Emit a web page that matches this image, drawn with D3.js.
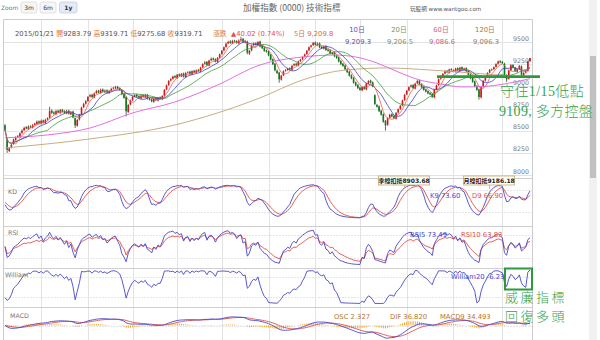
<!DOCTYPE html>
<html>
<head>
<meta charset="utf-8">
<script src="https://cdn.jsdelivr.net/npm/d3@7/dist/d3.min.js"></script>
<style>
html,body{margin:0;padding:0;background:#fff;overflow:hidden;}
svg{display:block;}
text{font-family:"DejaVu Sans","Noto Sans CJK TC",sans-serif;}
</style>
</head>
<body>
<svg id="chart" width="600" height="340"></svg>
<script>
// ---- daily candles, oldest first ----
const opens = [
8560,8400,8270,8310,8350,8395,8430,8435,8475,8505,
8540,8520,8550,8535,8565,8575,8605,8580,8615,8585,
8625,8645,8725,8705,8685,8725,8700,8735,8720,8695,
8725,8685,8715,8640,8555,8625,8685,8765,8805,8835,
8885,8905,8875,8925,8950,8925,8965,8935,8955,8925,
8950,8975,8980,8995,8980,8955,8915,8880,8710,8795,
8845,8885,8905,8890,8865,8900,8875,8905,8865,8855,
8825,8865,8840,8875,8855,8895,8965,9015,9065,9085,
9115,9095,9135,9115,9145,9105,9155,9165,9135,9175,
9155,9185,9170,9215,9255,9275,9235,9295,9315,9305,
9275,9325,9365,9405,9445,9485,9505,9485,9515,9510,
9485,9520,9535,9495,9505,9370,9405,9465,9485,9465,
9505,9455,9435,9405,9395,9355,9305,9255,9175,9155,
9075,9125,9175,9185,9205,9185,9235,9255,9235,9285,
9305,9335,9365,9405,9445,9465,9495,9465,9485,9445,
9425,9455,9415,9405,9365,9385,9345,9325,9285,9255,
9235,9195,9165,9125,9095,9045,9015,8985,8955,8995,
8965,9035,9065,9045,8900,8790,8775,8725,8685,8610,
8565,8645,8685,8665,8635,8705,8745,8785,8845,8910,
8955,8995,9015,8975,9035,9065,9025,8995,8965,8945,
8925,8915,8875,8965,9015,9085,9115,9145,9175,9155,
9195,9180,9165,9205,9175,9215,9185,9205,9175,9135,
9095,9055,9005,8965,8875,8995,9065,9105,9155,9185,
9195,9220,9255,9285,9275,9255,9125,9085,9180,9240,
9210,9165,9195,9225,9125,9155,9175,9283.79
];
const highs = [
8575,8410,8315,8350,8410,8435,8450,8480,8515,8545,
8550,8560,8560,8575,8590,8615,8615,8625,8625,8635,
8650,8770,8740,8720,8735,8735,8745,8745,8730,8735,
8735,8720,8725,8650,8630,8690,8770,8815,8845,8890,
8915,8915,8930,8960,8960,8975,8975,8965,8965,8960,
8985,8995,9005,9005,8990,8965,8925,8890,8800,8850,
8895,8910,8915,8900,8910,8910,8915,8915,8875,8865,
8870,8875,8880,8885,8900,8970,9020,9070,9095,9120,
9125,9140,9145,9150,9155,9160,9170,9175,9180,9185,
9190,9195,9220,9260,9285,9285,9300,9325,9325,9315,
9330,9370,9410,9450,9495,9515,9520,9525,9525,9520,
9530,9560,9545,9525,9515,9410,9470,9495,9495,9510,
9515,9465,9445,9415,9405,9365,9315,9265,9190,9165,
9130,9180,9195,9210,9215,9240,9260,9265,9290,9310,
9340,9370,9410,9450,9470,9500,9505,9495,9495,9455,
9460,9465,9425,9415,9390,9395,9355,9335,9295,9265,
9245,9205,9175,9135,9105,9055,9025,8995,9000,9005,
9040,9070,9075,9055,8910,8800,8785,8735,8695,8620,
8650,8690,8695,8675,8710,8750,8790,8850,8915,8960,
9000,9020,9025,9040,9070,9075,9035,9005,8975,8955,
8935,8925,8970,9020,9090,9120,9150,9180,9185,9200,
9205,9190,9210,9215,9220,9225,9210,9215,9185,9145,
9105,9065,9015,8975,9000,9070,9110,9160,9195,9200,
9225,9260,9290,9295,9285,9265,9135,9185,9250,9250,
9220,9200,9240,9235,9160,9180,9290,9319.71
];
const lows = [
8495,8250,8260,8300,8340,8385,8420,8425,8465,8495,
8515,8510,8530,8525,8555,8565,8575,8570,8580,8575,
8615,8635,8690,8680,8675,8695,8690,8705,8690,8685,
8680,8675,8640,8530,8545,8615,8675,8755,8795,8825,
8875,8870,8865,8915,8920,8915,8930,8925,8920,8915,
8940,8965,8970,8965,8950,8900,8860,8660,8700,8785,
8835,8875,8875,8860,8855,8870,8865,8850,8840,8820,
8815,8835,8830,8850,8845,8885,8955,9005,9055,9075,
9090,9085,9110,9105,9100,9095,9145,9130,9125,9150,
9145,9165,9160,9205,9245,9230,9225,9285,9290,9270,
9265,9315,9355,9395,9435,9475,9480,9475,9495,9480,
9475,9510,9490,9485,9360,9355,9395,9455,9460,9455,
9440,9420,9390,9380,9340,9290,9240,9170,9140,9040,
9065,9115,9165,9175,9180,9175,9225,9230,9225,9275,
9295,9325,9355,9395,9435,9455,9460,9455,9430,9420,
9415,9400,9390,9360,9355,9330,9310,9270,9240,9220,
9180,9150,9110,9080,9030,9000,8970,8950,8945,8960,
8955,9025,9030,8990,8790,8760,8710,8670,8590,8501,
8555,8635,8650,8630,8625,8695,8735,8775,8835,8900,
8945,8985,8970,8965,9025,9010,8980,8950,8930,8910,
8900,8870,8865,8955,9005,9075,9105,9135,9150,9145,
9175,9160,9155,9170,9165,9180,9175,9160,9120,9080,
9040,8990,8950,8850,8865,8985,9055,9095,9145,9175,
9185,9210,9245,9260,9250,9120,9050,9075,9170,9205,
9160,9155,9185,9109,9115,9145,9165,9275.68
];
const closes = [
8510,8285,8300,8340,8400,8420,8440,8470,8500,8530,
8525,8545,8540,8560,8580,8600,8585,8610,8590,8620,
8640,8720,8700,8690,8720,8705,8730,8715,8700,8720,
8690,8710,8650,8560,8620,8680,8760,8800,8830,8880,
8900,8880,8920,8945,8930,8960,8940,8950,8930,8945,
8970,8985,8990,8975,8960,8910,8870,8720,8790,8840,
8880,8900,8885,8870,8895,8880,8900,8860,8850,8830,
8860,8845,8870,8860,8890,8960,9010,9060,9080,9110,
9100,9130,9120,9140,9110,9150,9160,9140,9170,9160,
9180,9175,9210,9250,9270,9240,9290,9310,9300,9280,
9320,9360,9400,9440,9480,9500,9490,9510,9505,9490,
9515,9530,9500,9510,9380,9400,9460,9480,9470,9500,
9450,9430,9400,9390,9350,9300,9250,9180,9150,9080,
9120,9170,9180,9200,9190,9230,9250,9240,9280,9300,
9330,9360,9400,9440,9460,9490,9470,9480,9440,9430,
9450,9410,9400,9370,9380,9340,9320,9280,9250,9230,
9190,9160,9120,9090,9040,9010,8980,8960,8990,8970,
9030,9060,9040,9000,8800,8770,8720,8680,8600,8560,
8640,8680,8660,8640,8700,8740,8780,8840,8903.68,8950,
8990,9010,8980,9030,9060,9020,8990,8960,8940,8920,
8910,8880,8960,9010,9080,9110,9140,9170,9160,9190,
9185,9170,9200,9180,9210,9190,9200,9170,9130,9090,
9050,9000,8960,8880,8990,9060,9100,9150,9186.18,9190,
9215,9250,9280,9270,9260,9130,9080,9175.82,9238,9215,
9170,9190,9231,9130,9150,9169.6,9279.69,9319.71
];

// 60-day and 120-day averages sampled along the window: candle index, value
const ma60Index  = [0,20,40,60,80,100,120,140,155,165,175,185,195,205,215,225,235,247];
const ma60Value  = [8420,8452,8530,8700,8824,9015,9241,9331,9353,9331,9263,9162,9072,9027,8993,8998,9027,9086.6];
const ma120Index = [0,40,80,120,140,160,180,200,220,247];
const ma120Value = [8305,8407,8565,8870,9072,9184,9207,9184,9150,9096.3];

// candle indexes where a new month begins
const monthStarts = [17,39,60,81,102,124,146,167,189,211,234];
const priceTicks = [8000,8250,8500,8750,9000,9250,9500];

// quote line
const quoteDate = "2015/01/21";
const quoteFields = ["開","高","低","收"];
const quoteValues = ["9283.79","9319.71","9275.68","9319.71"];
const quoteChange = "▲40.02 (0.74%)";

// moving-average legend
const maNames = ["5日","10日","20日","60日","120日"];
const maLast  = ["9,209.8","9,209.3","9,206.5","9,086.6","9,096.3"];

// indicator legends
const kdLegend   = ["K9 73.60","D9 66.90"];
const rsiLegend  = ["RSI5 73.49","RSI10 63.83"];
const willLegend = ["William20 -6.23"];
const macdLegend = ["OSC 2.327","DIF 36.820","MACD9 34.493"];

// deduction markers (candle index, text)
const deductIndex = [188, 228];
const deductText  = ["季線扣抵8903.68","月線扣抵9186.18"];

const zoomButtons = ["3m","6m","1y"];

// ---------------------------------------------------------------
const N = closes.length;
const svg = d3.select("#chart");
const FL = 3, FR = 532;
const x = d3.scaleLinear().domain([0, N - 1]).range([5, 530]);
const yP = d3.scaleLinear().domain([8000, 9500]).range([175, 42]);

const panels = {
  main: [19, 178], kd: [178, 226], rsi: [226, 268], will: [268, 307], macd: [307, 345]
};
const yK = d3.scaleLinear().domain([0, 100]).range([219, 183]);
const yR = d3.scaleLinear().domain([0, 100]).range([265, 228]);
const yW = d3.scaleLinear().domain([-100, 0]).range([304, 270]);
const yM = d3.scaleLinear().domain([-200, 200]).range([341.1, 309.9]);

// ---- indicators derived from the candles ----
function sma(n) {
  return closes.map((c, i) => d3.mean(closes.slice(Math.max(0, i - n + 1), i + 1)));
}
const ma5 = sma(5), ma10 = sma(10), ma20 = sma(20);

const kLine = [], dLine = [];
{
  let k = 50, d = 50;
  for (let i = 0; i < N; i++) {
    const s = Math.max(0, i - 8);
    const hi = d3.max(highs.slice(s, i + 1)), lo = d3.min(lows.slice(s, i + 1));
    const rsv = hi === lo ? 50 : (closes[i] - lo) / (hi - lo) * 100;
    k = k * 2 / 3 + rsv / 3;
    d = d * 2 / 3 + k / 3;
    kLine.push(k); dLine.push(d);
  }
}
function rsi(n) {
  const out = [50];
  let up = 20, dn = 20;
  for (let i = 1; i < N; i++) {
    const ch = closes[i] - closes[i - 1];
    up += (Math.max(ch, 0) - up) / n;
    dn += (Math.max(-ch, 0) - dn) / n;
    out.push(up + dn === 0 ? 50 : up / (up + dn) * 100);
  }
  return out;
}
const rsi5 = rsi(5), rsi10 = rsi(10);
const will = closes.map((c, i) => {
  const s = Math.max(0, i - 19);
  const hi = d3.max(highs.slice(s, i + 1)), lo = d3.min(lows.slice(s, i + 1));
  return hi === lo ? -50 : (hi - c) / (hi - lo) * -100;
});
const dif = [], sig = [], osc = [];
{
  let e12 = closes[0], e26 = closes[0], s9 = 0;
  for (let i = 0; i < N; i++) {
    e12 += (closes[i] - e12) * 2 / 13;
    e26 += (closes[i] - e26) * 2 / 27;
    const df = e12 - e26;
    s9 += (df - s9) * 2 / 10;
    dif.push(df); sig.push(s9); osc.push(df - s9);
  }
}

// ---- frame & grid ----
const defs = svg.append("defs");
Object.entries(panels).forEach(([k, r]) => {
  defs.append("clipPath").attr("id", "clip-" + k)
    .append("rect").attr("x", FL).attr("y", r[0]).attr("width", FR - FL).attr("height", r[1] - r[0]);
});

// ---- scrollbar (page chrome, behind the overlays) ----
svg.append("rect").attr("x", 589).attr("y", 0).attr("width", 8).attr("height", 340).attr("fill", "#f1f1f1");
svg.append("rect").attr("x", 590).attr("y", 56).attr("width", 6).attr("height", 122).attr("fill", "#c1c1c1");

const grid = svg.append("g");
grid.selectAll("line.v").data(monthStarts).join("line")
  .attr("x1", d => Math.round(x(d)) + 0.5).attr("x2", d => Math.round(x(d)) + 0.5)
  .attr("y1", 19).attr("y2", 340).attr("stroke", "#e3e3e3");
grid.selectAll("line.h").data(priceTicks).join("line")
  .attr("x1", FL).attr("x2", FR)
  .attr("y1", d => Math.round(yP(d)) + 0.5).attr("y2", d => Math.round(yP(d)) + 0.5)
  .attr("stroke", "#e3e3e3");

// guide lines inside the indicator panels
const guides = [
  ...[80, 20].map(v => yK(v)),
  ...[80, 20].map(v => yR(v)),
  ...[-20, -80].map(v => yW(v)),
  yM(0)
];
grid.selectAll("line.g").data(guides).join("line")
  .attr("x1", FL).attr("x2", FR)
  .attr("y1", d => Math.round(d) + 0.5).attr("y2", d => Math.round(d) + 0.5)
  .attr("stroke", "#e6e6e6").attr("stroke-dasharray", "2,1");

// panel separators and outer frame
grid.selectAll("line.sep").data([178, 226, 268, 307]).join("line")
  .attr("x1", FL).attr("x2", FR).attr("y1", d => d + 0.5).attr("y2", d => d + 0.5)
  .attr("stroke", "#cfcfcf").attr("stroke-width", 1.2);
grid.append("path")
  .attr("d", `M${FL + 0.5},340 V19.5 H${FR + 0.5} V340`)
  .attr("fill", "none").attr("stroke", "#cccccc");

// price axis labels
svg.append("g").selectAll("text").data(priceTicks).join("text")
  .attr("x", 529).attr("y", d => yP(d) - 1.5)
  .attr("text-anchor", "end").attr("font-size", 6.3).attr("fill", "#777")
  .text(d => d);

// ---- title row ----
svg.append("text").attr("x", 1).attr("y", 9.6).attr("font-size", 6).attr("fill", "#777").text("Zoom");
const btnX = [21, 40, 59.5], btnW = [16, 16, 17.5];
const btn = svg.append("g").selectAll("g").data(zoomButtons).join("g");
btn.append("rect")
  .attr("x", (d, i) => btnX[i]).attr("y", 2).attr("width", (d, i) => btnW[i]).attr("height", 11).attr("rx", 2)
  .attr("fill", (d, i) => i === 2 ? "#e4eaf6" : "#f6f6f6")
  .attr("stroke", (d, i) => i === 2 ? "#c4cde0" : "#dadada").attr("stroke-width", 0.8);
btn.append("text")
  .attr("x", (d, i) => btnX[i] + btnW[i] / 2).attr("y", 10).attr("text-anchor", "middle")
  .attr("font-size", 6).attr("fill", "#333").attr("font-weight", (d, i) => i === 2 ? "bold" : "normal")
  .text(d => d);

svg.append("text").attr("x", 243).attr("y", 11).attr("font-size", 8.6).attr("fill", "#666")
  .style("font-family", '"Noto Sans CJK TC",sans-serif').text("加權指數 (0000) 技術指標");
svg.append("text").attr("x", 410).attr("y", 11).attr("font-size", 5.6).attr("fill", "#555")
  .text("玩股網 www.wantgoo.com");

// ---- quote line ----
const q = svg.append("text").attr("x", 15).attr("y", 35.5).attr("font-size", 6.8).attr("fill", "#555");
q.append("tspan").text(quoteDate + " ");
quoteFields.forEach((f, i) => {
  q.append("tspan").attr("fill", "#e07b39").text(f);
  q.append("tspan").text(quoteValues[i] + " ");
});
svg.append("text").attr("x", 213).attr("y", 35.5).attr("font-size", 6.8).attr("fill", "#e07b39").text("漲跌");
svg.append("text").attr("x", 231).attr("y", 35.5).attr("font-size", 6.8).attr("fill", "#e05050").text(quoteChange);
svg.append("text").attr("x", 294).attr("y", 35.5).attr("font-size", 6.8).attr("fill", "#e0684a")
  .text(maNames[0] + " " + maLast[0]);

const maColors = ["#e0684a", "#5656b8", "#6a9a6a", "#d06080", "#a87858"];
const colX = [null, 357, 399, 441, 485];
const maLeg = svg.append("g");
[1, 2, 3, 4].forEach(i => {
  maLeg.append("text").attr("x", colX[i]).attr("y", 32).attr("text-anchor", "middle")
    .attr("font-size", 6.8).attr("fill", maColors[i]).text(maNames[i]);
  maLeg.append("text").attr("x", colX[i] + 1).attr("y", 43.5).attr("text-anchor", "middle")
    .attr("font-size", 6.8).attr("fill", maColors[i]).text(maLast[i]);
});

// ---- candles ----
const candles = svg.append("g").attr("clip-path", "url(#clip-main)");
const idx = d3.range(N);
const upC = "#d41616", dnC = "#0c7a1c";
candles.selectAll("line").data(idx).join("line")
  .attr("x1", i => x(i)).attr("x2", i => x(i))
  .attr("y1", i => yP(highs[i])).attr("y2", i => yP(lows[i]))
  .attr("stroke", i => closes[i] >= opens[i] ? "#7a1010" : "#0a3a10").attr("stroke-width", 0.7);
candles.selectAll("rect").data(idx).join("rect")
  .attr("x", i => x(i) - 0.8).attr("width", 1.6)
  .attr("y", i => yP(Math.max(opens[i], closes[i])))
  .attr("height", i => Math.max(0.6, Math.abs(yP(opens[i]) - yP(closes[i]))))
  .attr("fill", i => closes[i] >= opens[i] ? upC : dnC);

// ---- moving averages ----
const maG = svg.append("g").attr("clip-path", "url(#clip-main)").attr("fill", "none");
const idxLine = arr => d3.line().x((d, i) => x(i)).y(d => yP(d))(arr);
const sparse = (ix, vals) => d3.line().x(d => x(d[0])).y(d => yP(d[1])).curve(d3.curveMonotoneX)(ix.map((v, i) => [v, vals[i]]));
maG.append("path").attr("d", sparse(ma120Index, ma120Value)).attr("stroke", "#c9ad82").attr("stroke-width", 1);
maG.append("path").attr("d", sparse(ma60Index, ma60Value)).attr("stroke", "#e46fe4").attr("stroke-width", 1);
maG.append("path").attr("d", idxLine(ma20)).attr("stroke", "#3f9a3f").attr("stroke-width", 0.8);
maG.append("path").attr("d", idxLine(ma10)).attr("stroke", "#3c3ccc").attr("stroke-width", 0.8);
maG.append("path").attr("d", idxLine(ma5)).attr("stroke", "#e8604a").attr("stroke-width", 0.8);

// ---- indicator panels ----
function panelLine(panel, arr, ys, color, w) {
  svg.append("path").attr("clip-path", `url(#clip-${panel})`)
    .attr("d", d3.line().x((d, i) => x(i)).y(d => ys(d))(arr))
    .attr("fill", "none").attr("stroke", color).attr("stroke-width", w || 0.9);
}
const blue = "#4646cc", red = "#e0504a";
panelLine("kd", dLine, yK, red);
panelLine("kd", kLine, yK, blue);
panelLine("rsi", rsi10, yR, red);
panelLine("rsi", rsi5, yR, blue);
panelLine("will", will, yW, blue);

svg.append("g").attr("clip-path", "url(#clip-macd)").selectAll("rect").data(idx).join("rect")
  .attr("x", i => x(i) - 0.5).attr("width", 1)
  .attr("y", i => Math.min(yM(0), yM(osc[i])))
  .attr("height", i => Math.abs(yM(osc[i]) - yM(0)))
  .attr("fill", "#f2a52a");
panelLine("macd", sig, yM, red);
panelLine("macd", dif, yM, blue);

// panel captions
const caps = [["KD", 8, 193.5], ["RSI", 8, 234.5], ["William", 5, 276.5], ["MACD", 10, 317.5]];
svg.append("g").selectAll("text").data(caps).join("text")
  .attr("x", d => d[1]).attr("y", d => d[2]).attr("font-size", 6.3).attr("fill", "#777").text(d => d[0]);

// indicator legends
function legend(texts, xs, y, colors) {
  texts.forEach((t, i) => svg.append("text").attr("x", xs[i]).attr("y", y)
    .attr("font-size", 6.8).attr("fill", colors[i]).text(t));
}
legend(kdLegend, [430, 472], 197.5, [blue, red]);
legend(rsiLegend, [410, 461], 237, [blue, red]);
legend(willLegend, [451, 0], 278.5, [blue]);
legend(macdLegend, [334, 390, 440], 318.5, ["#b8782e", "#b8782e", "#b8782e"]);

// deduction markers
const ded = svg.append("g").selectAll("g").data(deductIndex).join("g");
ded.append("line")
  .attr("x1", d => x(d)).attr("x2", d => x(d)).attr("y1", 185).attr("y2", 189)
  .attr("stroke", "#c9a86a").attr("stroke-width", 0.8);
ded.append("rect")
  .attr("x", d => x(d) - 26).attr("y", 176).attr("width", 51).attr("height", 9)
  .attr("fill", "#fffef8").attr("stroke", "#c9a86a").attr("stroke-width", 0.8);
ded.append("text")
  .attr("x", d => x(d) - 0.5).attr("y", 183.2).attr("text-anchor", "middle")
  .attr("font-size", 6).attr("font-weight", "bold").attr("fill", "#222")
  .text((d, i) => deductText[i]);

// ---- hand annotations ----
const ann = "#35a24c";
const annFont = '"Liberation Serif","Noto Sans CJK TC",serif';
const annG = svg.append("g");
annG.append("line").attr("x1", 437).attr("x2", 540).attr("y1", yP(9109)).attr("y2", yP(9109))
  .attr("stroke", "#2c9a3c").attr("stroke-width", 2.6);
annG.append("text").attr("x", 500).attr("y", 96).attr("font-size", 14).attr("letter-spacing", 0.4)
  .attr("fill", ann).attr("font-weight", 300).style("font-family", annFont).text("守住1/15低點");
annG.append("text").attr("x", 499).attr("y", 115.5).attr("font-size", 14).attr("letter-spacing", 0.3)
  .attr("fill", ann).attr("font-weight", 300).style("font-family", annFont).text("9109, 多方控盤");
annG.append("rect").attr("x", 505).attr("y", 268.5).attr("width", 27).attr("height", 21)
  .attr("fill", "none").attr("stroke", "#2c9a3c").attr("stroke-width", 2);
annG.append("text").attr("x", 505).attr("y", 301.5).attr("font-size", 13).attr("letter-spacing", 2.5)
  .attr("fill", ann).attr("font-weight", 300).style("font-family", annFont).text("威廉指標");
annG.append("text").attr("x", 505).attr("y", 321).attr("font-size", 13).attr("letter-spacing", 2.5)
  .attr("fill", ann).attr("font-weight", 300).style("font-family", annFont).text("回復多頭");
</script>
</body>
</html>
